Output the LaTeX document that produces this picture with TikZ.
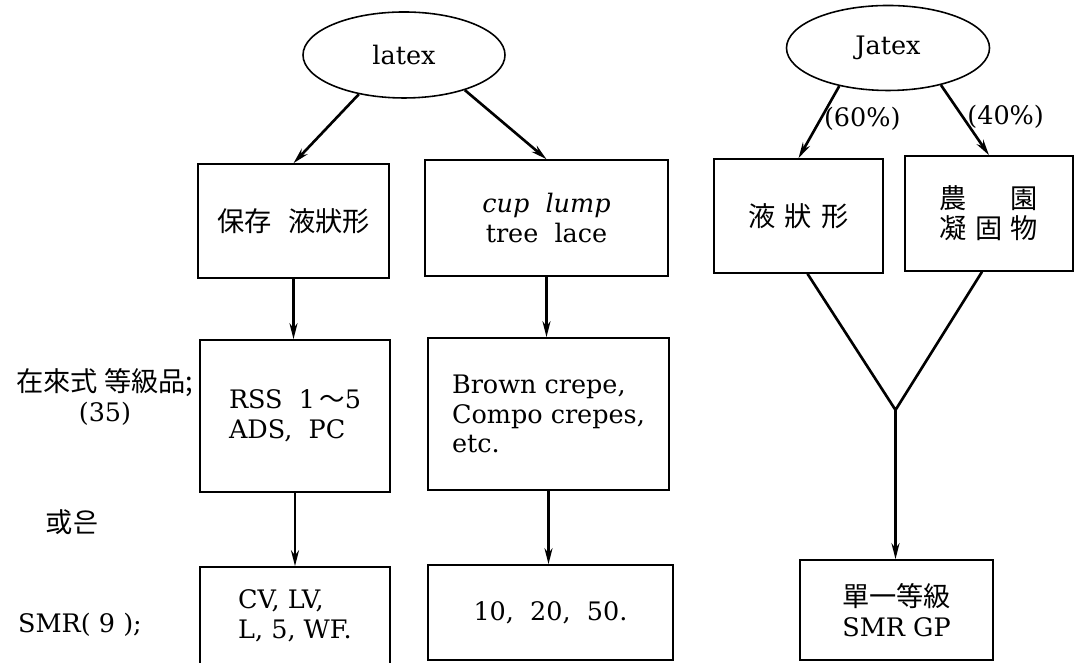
\documentclass[tikz,border=0pt]{standalone}
\usepackage{fontspec}
\usepackage{tikz}
\usetikzlibrary{positioning, arrows.meta, shapes.geometric}
\setmainfont{DejaVu Serif}
\newfontfamily\cjk{Noto Sans CJK KR}
\newcommand{\bigtxt}{\fontsize{14.5}{17}\selectfont}
\newcommand{\hanja}{\cjk\fontsize{15.5}{18}\selectfont}

\begin{document}
\begin{tikzpicture}[>={Stealth[length=3.2mm,width=1.6mm]},
    box/.style={draw, line width=0.9pt, font=\bigtxt, inner sep=2pt},
    blob/.style={draw, ellipse, line width=0.9pt, font=\bigtxt, inner sep=0pt},
    arr/.style={->, line width=1.5pt},
    side/.style={font=\bigtxt, align=center}]
  \useasboundingbox (0,0) rectangle (21.54,13.26);

  \node[blob, minimum width=4.04cm, minimum height=1.72cm] (latexL) at (8.08,12.16) {latex};
  \node[blob, minimum width=4.06cm, minimum height=1.70cm] (latexR) at (17.76,12.30) {Jatex};

  \node[box, minimum width=3.82cm, minimum height=2.28cm] (keep) at (5.87,8.84)
    {\hanja 保存\hspace{0.6em}液狀形};
  \node[box, minimum width=4.86cm, minimum height=2.32cm, align=center] (cup) at (10.93,8.90)
    {\textit{cup}\ \ \textit{lump}\\tree\ \ lace};
  \node[box, minimum width=3.38cm, minimum height=2.28cm] (liq) at (15.97,8.94)
    {\hanja 液\hspace{0.35em}狀\hspace{0.35em}形};
  \node[box, minimum width=3.36cm, minimum height=2.30cm, align=center] (farm) at (19.78,8.99)
    {\hanja 農\hspace{1.6em}園\\ \hanja 凝\hspace{0.3em}固\hspace{0.3em}物};

  \node[box, minimum width=3.80cm, minimum height=3.04cm, align=left] (rss) at (5.90,4.94)
    {RSS\ \ 1\,{\cjk ～}5\\ADS,\ \ PC};
  \node[box, minimum width=4.82cm, minimum height=3.04cm, align=left] (brown) at (10.97,4.98)
    {Brown crepe,\\Compo crepes,\\etc.};
  \node[box, minimum width=3.80cm, minimum height=1.96cm, align=left] (cv) at (5.90,0.94)
    {CV,\ LV,\\L,\ 5,\ WF.};
  \node[box, minimum width=4.90cm, minimum height=1.90cm] (nums) at (11.01,1.01) {10,\ \ 20,\ \ 50.};
  \node[box, minimum width=3.86cm, minimum height=2.00cm, align=center] (smrgp) at (17.93,1.06)
    {{\hanja 單一等級}\\SMR GP};

  \node[side] (old) at (2.10,5.32) {{\hanja 在來式\ 等級品;}\\(35)};
  \node[side] (orr) at (1.44,2.82) {\hanja 或은};
  \node[side] (smr) at (1.60,0.76) {SMR(\ 9\ );};

  \coordinate (fork) at (17.91,5.06);

  \draw[arr] (latexL.221) -- (keep.north);
  \draw[arr] (latexL.-30) -- (cup.north);
  \draw[arr] (keep.south) -- (keep.south |- rss.north);
  \draw[arr] (cup.south) -- (cup.south |- brown.north);
  \draw[arr] (rss.south) -- (rss.south |- cv.north);
  \draw[arr] (brown.south) -- (brown.south |- nums.north);

  \draw[arr] (latexR.218) -- node[right, pos=0.45, font=\bigtxt, inner sep=1pt] {(60\%)} (liq.north);
  \draw[arr] (latexR.-35) -- node[right, pos=0.45, font=\bigtxt, inner sep=2pt] {(40\%)} (farm.north);
  \draw[line width=1.5pt, line join=round] ([xshift=0.18cm]liq.south) -- (fork) -- ([xshift=-0.14cm]farm.south);
  \draw[arr] (fork) -- (fork |- smrgp.north);
\end{tikzpicture}
\end{document}
